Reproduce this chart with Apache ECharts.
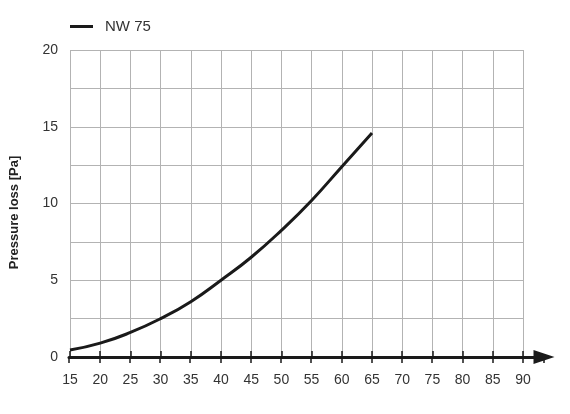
<!DOCTYPE html>
<html>
<head>
<meta charset="utf-8">
<script src="https://cdn.jsdelivr.net/npm/echarts@6/dist/echarts.min.js"></script>
<style>
  html, body { margin: 0; padding: 0; background: #fff; }
  #chart { width: 570px; height: 414px; }
</style>
</head>
<body>
<div id="chart"></div>
<script>
// data
var flowRate = [15, 20, 25, 30, 35, 40, 45, 50, 55, 60, 65];
var pressureLoss = [0.45, 0.9, 1.6, 2.5, 3.6, 5.0, 6.5, 8.25, 10.2, 12.4, 14.6];
var seriesName = 'NW 75';
var yTitle = 'Pressure loss [Pa]';

var chart = echarts.init(document.getElementById('chart'));

var points = [];
for (var i = 0; i < flowRate.length; i++) {
  points.push([flowRate[i], pressureLoss[i]]);
}

var font = 'Liberation Sans, Arial, sans-serif';
var gridColor = '#b3b3b3';
var ink = '#1a1a1a';

// the arrow axis lives in a wider grid, keep the same px per unit
var gridLeft = 69, gridRight = 47, arrowRight = 26;
var pxPerUnit = (570 - gridRight - gridLeft) / 75;
var arrowMax = 15 + (570 - arrowRight - gridLeft) / pxPerUnit;

option = {
  animation: false,
  textStyle: { fontFamily: font },
  legend: {
    left: 70,
    top: 19,
    padding: 0,
    itemWidth: 23,
    itemHeight: 3,
    icon: 'rect',
    textStyle: { fontSize: 15, color: '#333', fontFamily: font, padding: [0, 0, 0, 7] },
    data: [seriesName]
  },
  grid: [
    { left: gridLeft, right: gridRight, top: 50, bottom: 57 },
    { left: gridLeft, right: arrowRight, top: 50, bottom: 57 }
  ],
  xAxis: [{
    gridIndex: 0,
    type: 'value',
    min: 15,
    max: 90,
    interval: 5,
    axisLine: { show: true, lineStyle: { color: ink, width: 3 } },
    axisTick: { show: true, inside: true, length: 6, lineStyle: { color: ink, width: 1.5 } },
    axisLabel: { fontSize: 14, color: '#333', margin: 16 },
    splitLine: { show: true, lineStyle: { color: gridColor, width: 1 } }
  }, {
    gridIndex: 1,
    type: 'value',
    min: 15,
    max: arrowMax,
    interval: 5,
    axisLine: {
      show: true,
      symbol: ['none', 'triangle'],
      symbolSize: [14, 21],
      lineStyle: { color: ink, width: 3 }
    },
    axisTick: { show: true, inside: false, length: 6, lineStyle: { color: ink, width: 1.5 } },
    axisLabel: { show: false },
    splitLine: { show: false }
  }],
  yAxis: [{
    gridIndex: 0,
    type: 'value',
    min: 0,
    max: 20,
    interval: 2.5,
    name: yTitle,
    nameLocation: 'middle',
    nameGap: 49,
    nameTextStyle: { fontSize: 13, fontWeight: 'bold', color: '#222', padding: [0, 18, 0, 0] },
    axisLine: { show: false },
    axisTick: { show: false },
    axisLabel: {
      fontSize: 14,
      color: '#333',
      margin: 12,
      formatter: function (v) { return v % 5 === 0 ? v : ''; }
    },
    splitLine: { show: true, lineStyle: { color: gridColor, width: 1 } }
  }, {
    gridIndex: 1,
    type: 'value',
    min: 0,
    max: 20,
    show: false
  }],
  series: [{
    name: seriesName,
    type: 'line',
    xAxisIndex: 0,
    yAxisIndex: 0,
    smooth: true,
    symbol: 'none',
    lineStyle: { color: ink, width: 3 },
    itemStyle: { color: ink },
    data: points
  }]
};
chart.setOption(option);
</script>
</body>
</html>
